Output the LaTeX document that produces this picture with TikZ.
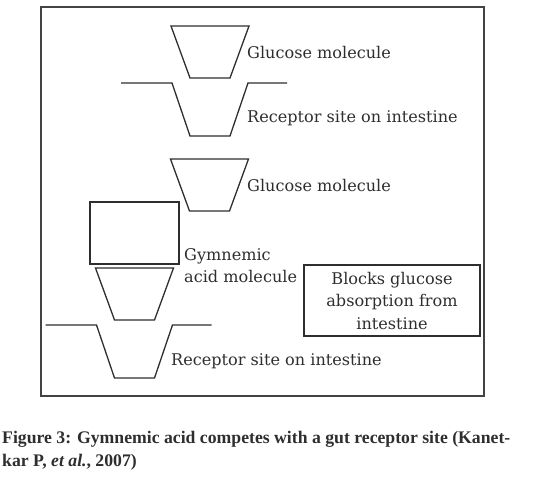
\documentclass[tikz,border=0pt]{standalone}
\usepackage{fontspec}
\newfontfamily\capfont{Liberation Serif}
\newfontfamily\tagfont{DejaVu Serif}
\usetikzlibrary{calc}
\definecolor{ink}{HTML}{2E2E2E}
\newcommand{\molecule}[2] % centre x, top y in px
{
	% closed cup, top edge drawn
	\draw[cupline] (#1-39,#2) -- (#1+39,#2) -- (#1+20,#2+52) -- (#1-20,#2+52) -- cycle;
}
\newcommand{\receptor}[2] % centre x, rim y in px
{
	% open notch with flat rim on both sides
	\draw[cupline] (#1-89,#2) -- (#1-38,#2) -- (#1-20,#2+53) -- (#1+20,#2+53) -- (#1+38,#2) -- (#1+77,#2);
}

\begin{document}
\begin{tikzpicture}[x=1pt, y=-1pt,
	cupline/.style={line width=1.3pt, draw=ink, line join=miter},
	lbl/.style={inner sep=0pt, text=ink, font=\tagfont\fontsize{16.1}{22.5}\selectfont}]
	% 549 x 478 px, y grows downwards
	\useasboundingbox (0,0) rectangle (549,478);
	\draw[line width=1.6pt, draw=ink!90] (41,7) rectangle (484,396);
	
	\molecule{210}{26};
	\receptor{210}{83};
	\molecule{209.5}{159};
	
	% gymnemic acid: block on top of a cup
	\draw[cupline] (90,202) rectangle (179,264);
	\molecule{134.5}{268};
	\receptor{134.5}{325};
	
	\node[lbl, anchor=base west] (glu1) at (247,59) {Glucose molecule};
	\node[lbl, anchor=base west] (site1) at (247,123) {Receptor site on intestine};
	\node[lbl, anchor=base west] (glu2) at (247,192) {Glucose molecule};
	\node[lbl, anchor=base west] (gym) at (184,261) {Gymnemic};
	\node[lbl, anchor=base west] (gymacid) at (184,283) {acid molecule};
	\node[lbl, anchor=base west] (site2) at (171,366) {Receptor site on intestine};
	
	\node[draw=ink, line width=1.3pt, minimum width=176pt, minimum height=71pt,
		inner sep=0pt] (blocks) at (392,300.5) {};
	\node[lbl, align=center] (blockstext) at (blocks.center)
		{Blocks glucose\\absorption from\\intestine};
	
	\node[inner sep=0pt, anchor=north west, align=left, text=ink,
		font=\capfont\bfseries\fontsize{17.7}{23}\selectfont] (caption) at (2,431)
		{Figure 3: Gymnemic acid competes with a gut receptor site (Kanet-\\kar P, \textit{et al.}, 2007)};
\end{tikzpicture}
\end{document}
